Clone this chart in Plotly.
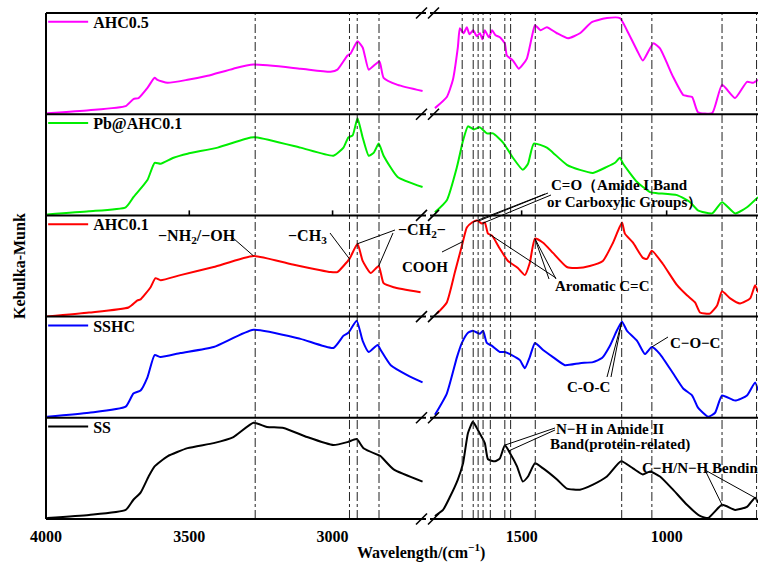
import numpy as np
import plotly.graph_objects as go

# ---------------- data (Kubelka-Munk, normalised within each panel) ----------------
series_names = ["AHC0.5", "Pb@AHC0.1", "AHC0.1", "SSHC", "SS"]
series_colors = ["#FF00FF", "#00EE00", "#FF0000", "#0000FF", "#000000"]

ahc05_left_wn = [3996, 3850, 3722, 3695, 3677, 3646, 3621, 3611, 3576, 3506, 3436, 3346, 3276, 3112, 3007, 2983,
                 2948, 2937, 2913, 2895, 2874, 2856, 2836, 2822, 2773, 2686]
ahc05_left_val = [0.01, 0.04, 0.08, 0.15, 0.16, 0.26, 0.36, 0.34, 0.31, 0.34, 0.38, 0.45, 0.49, 0.45, 0.42, 0.44,
                  0.58, 0.60, 0.72, 0.66, 0.44, 0.48, 0.52, 0.36, 0.29, 0.23]
ahc05_right_wn = [1799, 1758, 1737, 1720, 1713, 1700, 1689, 1680, 1667, 1655, 1644, 1635, 1627, 1613, 1602, 1590,
                  1575, 1558, 1551, 1530, 1510, 1499, 1482, 1465, 1454, 1435, 1413, 1378, 1340, 1299, 1258, 1206,
                  1161, 1137, 1102, 1082, 1046, 1023, 978, 943, 930, 912, 892, 843, 809, 764, 723, 702, 685]
ahc05_right_val = [0.06, 0.17, 0.34, 0.66, 0.85, 0.80, 0.86, 0.79, 0.83, 0.77, 0.80, 0.74, 0.83, 0.76, 0.83, 0.78,
                   0.76, 0.70, 0.58, 0.53, 0.45, 0.48, 0.55, 0.76, 0.88, 0.83, 0.86, 0.80, 0.75, 0.80, 0.91, 0.95,
                   0.95, 0.83, 0.63, 0.53, 0.70, 0.65, 0.37, 0.19, 0.18, 0.17, 0.02, 0.01, 0.29, 0.16, 0.32, 0.31, 0.34]

pb_left_wn = [3996, 3850, 3722, 3695, 3646, 3621, 3600, 3555, 3506, 3401, 3286, 3262, 3112, 2997, 2962, 2945,
              2930, 2913, 2895, 2874, 2856, 2839, 2822, 2773, 2686]
pb_left_val = [0.01, 0.04, 0.08, 0.18, 0.35, 0.52, 0.51, 0.57, 0.61, 0.67, 0.77, 0.77, 0.67, 0.59, 0.67, 0.77,
               0.79, 0.96, 0.77, 0.59, 0.62, 0.71, 0.59, 0.38, 0.28]
pb_right_wn = [1799, 1758, 1723, 1702, 1685, 1665, 1644, 1620, 1599, 1564, 1530, 1496, 1478, 1458, 1413, 1392,
               1344, 1299, 1254, 1206, 1178, 1161, 1150, 1102, 1057, 1033, 964, 919, 892, 843, 809, 764, 723, 685]
pb_right_val = [0.03, 0.15, 0.48, 0.74, 0.88, 0.85, 0.87, 0.81, 0.81, 0.72, 0.57, 0.45, 0.51, 0.71, 0.67, 0.62,
                0.50, 0.45, 0.42, 0.48, 0.52, 0.57, 0.51, 0.33, 0.23, 0.22, 0.20, 0.13, 0.05, 0.02, 0.13, 0.02, 0.08, 0.18]

ahc01_left_wn = [3996, 3850, 3712, 3681, 3670, 3635, 3618, 3600, 3531, 3415, 3276, 3147, 3007, 2983, 2962, 2941,
                 2913, 2895, 2867, 2839, 2822, 2787, 2693]
ahc01_left_val = [0.00, 0.04, 0.09, 0.16, 0.17, 0.29, 0.38, 0.36, 0.41, 0.49, 0.60, 0.52, 0.44, 0.44, 0.50, 0.57,
                  0.72, 0.55, 0.43, 0.50, 0.33, 0.29, 0.24]
ahc01_right_wn = [1792, 1758, 1730, 1706, 1689, 1671, 1654, 1637, 1627, 1616, 1602, 1575, 1547, 1513, 1489, 1472,
                  1454, 1426, 1392, 1344, 1309, 1265, 1220, 1185, 1154, 1144, 1116, 1082, 1068, 1051, 1013, 964,
                  930, 902, 885, 851, 826, 809, 781, 747, 712, 695, 685]
ahc01_right_val = [0.03, 0.14, 0.44, 0.70, 0.88, 0.93, 0.95, 0.92, 0.93, 0.82, 0.80, 0.67, 0.55, 0.48, 0.41, 0.53,
                   0.77, 0.73, 0.63, 0.49, 0.48, 0.50, 0.55, 0.73, 0.93, 0.82, 0.73, 0.58, 0.57, 0.65, 0.52, 0.31,
                   0.21, 0.14, 0.04, 0.03, 0.11, 0.25, 0.18, 0.13, 0.18, 0.31, 0.24]

sshc_left_wn = [3996, 3850, 3722, 3695, 3670, 3646, 3621, 3600, 3531, 3415, 3276, 3112, 2997, 2962, 2945, 2916,
                2895, 2874, 2843, 2832, 2797, 2738, 2686]
sshc_left_val = [0.01, 0.05, 0.11, 0.24, 0.27, 0.40, 0.62, 0.60, 0.64, 0.70, 0.87, 0.78, 0.69, 0.81, 0.84, 0.96,
                 0.76, 0.65, 0.72, 0.67, 0.52, 0.42, 0.35]
sshc_right_wn = [1799, 1758, 1723, 1706, 1685, 1668, 1644, 1633, 1620, 1602, 1575, 1558, 1534, 1506, 1489, 1472,
                 1454, 1426, 1392, 1351, 1299, 1254, 1223, 1196, 1172, 1154, 1137, 1102, 1075, 1051, 1023, 978,
                 943, 912, 892, 857, 833, 809, 764, 723, 695, 685]
sshc_right_val = [0.03, 0.24, 0.60, 0.74, 0.84, 0.86, 0.83, 0.86, 0.74, 0.71, 0.65, 0.65, 0.62, 0.57, 0.49, 0.60,
                  0.74, 0.67, 0.60, 0.52, 0.54, 0.55, 0.59, 0.71, 0.86, 0.95, 0.86, 0.76, 0.63, 0.70, 0.63, 0.44,
                  0.29, 0.22, 0.10, 0.01, 0.05, 0.22, 0.17, 0.22, 0.35, 0.27]

ss_left_wn = [3996, 3850, 3722, 3695, 3670, 3642, 3621, 3576, 3506, 3415, 3346, 3276, 3229, 3171, 3089, 2997,
              2948, 2916, 2892, 2839, 2832, 2787, 2686]
ss_left_val = [0.01, 0.04, 0.09, 0.19, 0.26, 0.42, 0.52, 0.62, 0.70, 0.75, 0.81, 0.95, 0.91, 0.90, 0.81, 0.73,
               0.76, 0.79, 0.70, 0.63, 0.62, 0.49, 0.37]
ss_right_wn = [1799, 1771, 1747, 1720, 1702, 1685, 1668, 1651, 1627, 1616, 1592, 1575, 1558, 1540, 1516, 1496,
               1478, 1454, 1426, 1378, 1344, 1299, 1254, 1206, 1157, 1116, 1082, 1057, 1023, 978, 930, 885,
               857, 809, 764, 723, 695, 685]
ss_right_val = [0.03, 0.09, 0.22, 0.39, 0.55, 0.85, 0.96, 0.88, 0.75, 0.59, 0.57, 0.60, 0.73, 0.65, 0.52, 0.37,
                0.42, 0.55, 0.50, 0.39, 0.30, 0.29, 0.34, 0.42, 0.57, 0.50, 0.44, 0.47, 0.42, 0.29, 0.14, 0.03,
                0.01, 0.14, 0.09, 0.12, 0.21, 0.16]

guide_left_wn = [3270, 2941, 2914, 2838]
guide_right_wn = [1705, 1667, 1650, 1633, 1608, 1558, 1538, 1453, 1155, 1051, 809, 690]

tick_left = [4000, 3500, 3000]
tick_right = [1500, 1000]

# ---------------- layout constants ----------------
W, H = 758, 562
ML, MR, MT, MB = 46, 0, 13, 43
PW, PH = W - ML - MR, H - MT - MB
L_DOM = [0.0, (426 - ML) / PW]
R_DOM = [(430 - ML) / PW, 1.0]
L_RANGE = [4000, 2674]
R_RANGE = [1816, 685]
SERIF = "Liberation Serif"

left_data = [(ahc05_left_wn, ahc05_left_val), (pb_left_wn, pb_left_val), (ahc01_left_wn, ahc01_left_val),
             (sshc_left_wn, sshc_left_val), (ss_left_wn, ss_left_val)]
right_data = [(ahc05_right_wn, ahc05_right_val), (pb_right_wn, pb_right_val), (ahc01_right_wn, ahc01_right_val),
              (sshc_right_wn, sshc_right_val), (ss_right_wn, ss_right_val)]


def yname(i):
    n = 5 - i
    return "y" if n == 1 else f"y{n}"


def panel_bottom(i):
    return (4 - i) * 0.2


def px_x(px):
    return (px - ML) / PW


def px_y(py):
    return (H - MB - py) / PH


def wn_to_paper(wn):
    if wn > 2200:
        r0, r1 = L_RANGE
        d0, d1 = L_DOM
    else:
        r0, r1 = R_RANGE
        d0, d1 = R_DOM
    return d0 + (wn - r0) / (r1 - r0) * (d1 - d0)


def curve_point(i, wn):
    wns, vals = (left_data[i] if wn > 2200 else right_data[i])
    v = float(np.interp(wn, wns[::-1], vals[::-1]))
    return wn_to_paper(wn), panel_bottom(i) + v * 0.2


fig = go.Figure()

for i in range(5):
    lg = "legend" if i == 0 else f"legend{i + 1}"
    for seg, (wns, vals) in enumerate([left_data[i], right_data[i]]):
        fig.add_trace(go.Scatter(
            x=wns, y=vals, mode="lines",
            line=dict(color=series_colors[i], width=2, shape="spline", smoothing=0.5),
            name=series_names[i], showlegend=(seg == 0), legend=lg,
            xaxis="x" if seg == 0 else "x2", yaxis=yname(i),
            hoverinfo="skip"))

layout = dict(
    width=W, height=H,
    margin=dict(l=ML, r=MR, t=MT, b=MB),
    plot_bgcolor="white", paper_bgcolor="white",
    font=dict(family=SERIF, size=15, color="black"),
    xaxis=dict(domain=L_DOM, range=L_RANGE, anchor="y", tickvals=tick_left,
               ticktext=[str(t) for t in tick_left], ticks="", showline=False, showgrid=False, zeroline=False,
               tickfont=dict(family=SERIF, size=16, color="black", weight="bold"), ticklabelstandoff=6),
    xaxis2=dict(domain=R_DOM, range=R_RANGE, anchor="y", tickvals=tick_right,
                ticktext=[str(t) for t in tick_right], ticks="", showline=False, showgrid=False, zeroline=False,
                tickfont=dict(family=SERIF, size=16, color="black", weight="bold"), ticklabelstandoff=6),
)
for i in range(5):
    key = "yaxis" if yname(i) == "y" else "yaxis" + yname(i)[1:]
    b = panel_bottom(i)
    layout[key] = dict(domain=[b, b + 0.2], range=[0, 1.0], anchor="x", showticklabels=False, ticks="",
                       showgrid=False, zeroline=False, showline=False, fixedrange=True)

for i in range(5):
    lg = "legend" if i == 0 else f"legend{i + 1}"
    layout[lg] = dict(x=-0.004, y=panel_bottom(i) + 0.2 + 0.016, xanchor="left", yanchor="top",
                      bgcolor="rgba(0,0,0,0)", borderwidth=0, itemwidth=40,
                      font=dict(family=SERIF, size=16, color="black", weight="bold"),
                      tracegroupgap=0)
fig.update_layout(**layout)

shapes = []
for wn in guide_left_wn:
    shapes.append(dict(type="line", xref="x", yref="paper", x0=wn, x1=wn, y0=0, y1=1,
                       line=dict(color="#222222", width=1, dash="dashdot")))
for wn in guide_right_wn:
    shapes.append(dict(type="line", xref="x2", yref="paper", x0=wn, x1=wn, y0=0, y1=1,
                       line=dict(color="#222222", width=1, dash="dashdot")))
# inward tick marks on the bottom edge of the Pb@AHC0.1 panel
tick_y0 = panel_bottom(1)
for xr, tv in (("x", tick_left), ("x2", tick_right)):
    for t in tv:
        shapes.append(dict(type="line", xref=xr, yref="paper", x0=t, x1=t, y0=tick_y0, y1=tick_y0 + 5 / PH,
                           line=dict(color="black", width=1.6)))
for k in range(6):
    yb = k * 0.2
    shapes.append(dict(type="line", xref="paper", yref="paper", x0=0, x1=L_DOM[1], y0=yb, y1=yb,
                       line=dict(color="black", width=2)))
    shapes.append(dict(type="line", xref="paper", yref="paper", x0=R_DOM[0], x1=1, y0=yb, y1=yb,
                       line=dict(color="black", width=2)))
    ypx = H - MB - yb * PH
    for xs in (416, 428):
        shapes.append(dict(type="line", xref="paper", yref="paper",
                           x0=px_x(xs), y0=px_y(ypx + 5.5), x1=px_x(xs + 11), y1=px_y(ypx - 5.5),
                           line=dict(color="black", width=1.6)))
shapes.append(dict(type="line", xref="paper", yref="paper", x0=0, x1=0, y0=0, y1=1,
                   line=dict(color="black", width=2)))

leaders = [
    ((233, 238), 2, 3276),
    ((330, 233), 2, 2941),
    ((395, 230), 2, 2913),
    ((393, 233), 2, 2839),
    ((442, 252), 2, 1702),
    ((545, 194), 2, 1667),
    ((548, 193), 2, 1650),
    ((551, 195), 2, 1633),
    ((556, 278), 2, 1608),
    ((549, 279), 2, 1454),
    ((556, 279), 2, 1454),
    ((607, 377), 3, 1155),
    ((611, 377), 3, 1155),
    ((668, 337), 3, 1051),
    ((555, 428), 4, 1558),
    ((555, 430), 4, 1545),
    ((705, 470), 4, 809),
    ((705, 470), 4, 695),
]
for (px, py), pi, wn in leaders:
    xe, ye = curve_point(pi, wn)
    shapes.append(dict(type="line", xref="paper", yref="paper", x0=px_x(px), y0=px_y(py), x1=xe, y1=ye,
                       line=dict(color="black", width=1)))
fig.update_layout(shapes=shapes)

labels = [
    ("−NH<sub>2</sub>/−OH", 156, 236, "left", 16),
    ("−CH<sub>3</sub>", 286, 236, "left", 16),
    ("−CH<sub>2</sub>−", 396, 231, "left", 16),
    ("COOH", 425, 267, "center", 15),
    ("C=O（Amide I Band", 619, 185, "center", 15),
    ("or Carboxylic Groups）", 624, 202, "center", 15),
    ("Aromatic C=C", 553, 286, "left", 15),
    ("C-O-C", 565, 387, "left", 15),
    ("C−O−C", 668, 343, "left", 15),
    ("N−H in Amide II", 610, 429, "center", 15),
    ("Band(protein-related)", 620, 444, "center", 15),
    ("C−H/N−H Bending", 640, 468, "left", 15),
]
annotations = []
for txt, px, py, xa, sz in labels:
    annotations.append(dict(text=txt, x=px_x(px), y=px_y(py), xref="paper", yref="paper",
                            xanchor=xa, yanchor="middle", showarrow=False,
                            font=dict(family=SERIF, size=sz, color="black", weight="bold")))
annotations.append(dict(text="Wavelength/(cm<sup>−1</sup>)", x=px_x(421), y=px_y(551), xref="paper", yref="paper",
                        xanchor="center", yanchor="middle", showarrow=False,
                        font=dict(family=SERIF, size=16, color="black", weight="bold")))
annotations.append(dict(text="Kebulka-Munk", x=px_x(19), y=px_y(266), xref="paper", yref="paper",
                        xanchor="center", yanchor="middle", showarrow=False, textangle=-90,
                        font=dict(family=SERIF, size=16, color="black", weight="bold")))
fig.update_layout(annotations=annotations)

fig.write_html("out.html", config={"displayModeBar": False},
               post_script="document.body.style.margin='0px';document.body.style.overflow='hidden';")
